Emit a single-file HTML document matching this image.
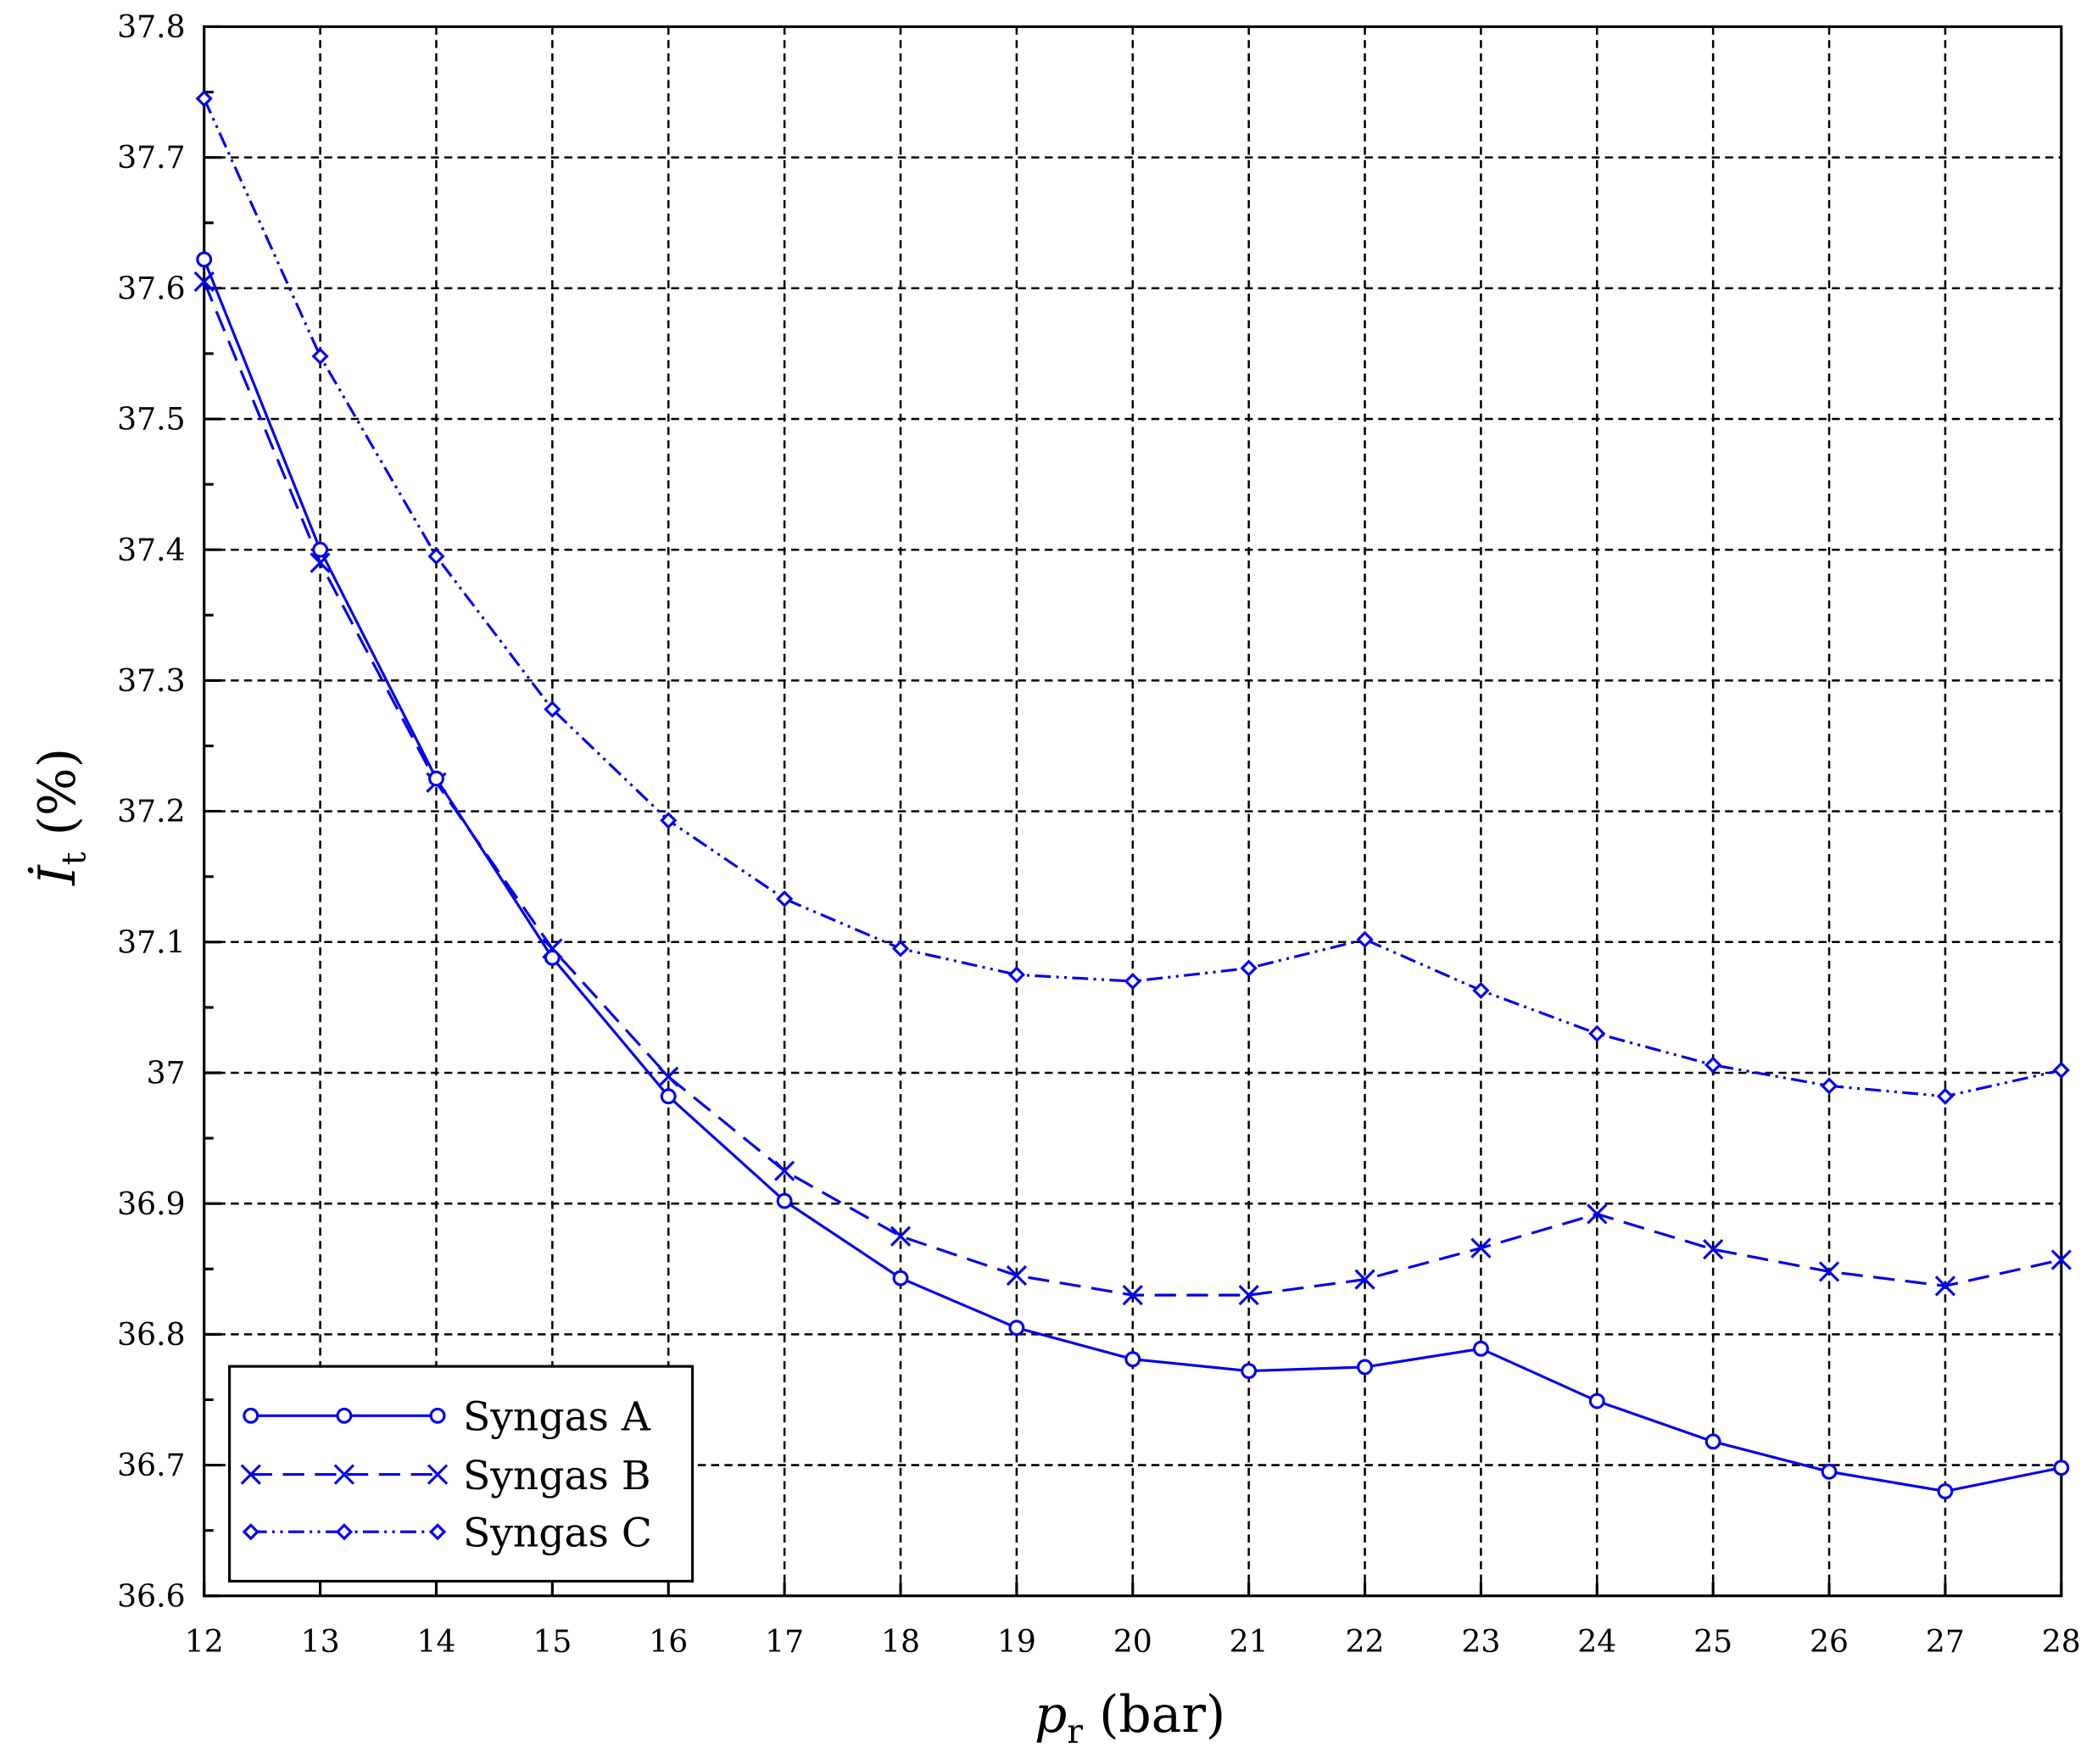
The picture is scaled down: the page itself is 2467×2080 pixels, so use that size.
<!DOCTYPE html>
<html><head><meta charset="utf-8"><style>html,body{margin:0;padding:0;background:#fff}svg{display:block}</style></head>
<body>
<svg id="s" xmlns="http://www.w3.org/2000/svg" width="2467" height="2080" viewBox="0 0 1568 1322" preserveAspectRatio="none" font-family="DejaVu Serif, Liberation Serif, serif"></svg>
<script>
const s=document.getElementById('s');
const X=v=>153+(v-12)*87, Y=v=>20+(37.8-v)*980;
let h='<rect width="1568" height="1322" fill="#fff"/>';
for(let i=13;i<28;i++)h+=`<line x1="${X(i)}" y1="20" x2="${X(i)}" y2="1196" stroke="#000" stroke-width="1.6" stroke-dasharray="6,4"/>`;
for(let k=1;k<12;k++){let v=36.6+k*0.1;h+=`<line x1="153" y1="${Y(v)}" x2="1545" y2="${Y(v)}" stroke="#000" stroke-width="1.6" stroke-dasharray="6,4"/>`;}
h+=`<rect x="153" y="20" width="1392" height="1176" fill="none" stroke="#000" stroke-width="2"/>`;
for(let k=0;k<=24;k++){let y=20+k*49;h+=`<line x1="153" y1="${y}" x2="${k%2?160:166}" y2="${y}" stroke="#000" stroke-width="2"/>`;}
for(let k=0;k<=12;k++){let v=(36.6+k*0.1);let t=(Math.round(v*10)/10).toString();h+=`<text x="139" y="${Y(v)+8}" text-anchor="end" font-size="23">${t}</text>`;}
for(let i=12;i<=28;i++){h+=`<line x1="${X(i)}" y1="1196" x2="${X(i)}" y2="1186" stroke="#000" stroke-width="2"/><text x="${X(i)}" y="1238" text-anchor="middle" font-size="23">${i}</text>`;}
h+=`<text x="847" y="1298" text-anchor="middle" font-size="38"><tspan font-style="italic">p</tspan><tspan font-size="25" dy="8">r</tspan><tspan dy="-8"> (bar)</tspan></text>`;
h+=`<g transform="translate(56,612) rotate(-90)"><text text-anchor="middle" font-size="38"><tspan font-style="italic">İ</tspan><tspan font-size="25" dy="8">t</tspan><tspan dy="-8"> (%)</tspan></text></g>`;
const A=[37.622,37.40,37.225,37.088,36.982,36.902,36.843,36.805,36.781,36.772,36.775,36.789,36.749,36.718,36.695,36.680,36.698];
const B=[37.605,37.39,37.222,37.095,36.997,36.925,36.875,36.845,36.830,36.830,36.842,36.866,36.892,36.865,36.848,36.837,36.857];
const C=[37.745,37.548,37.395,37.278,37.193,37.133,37.095,37.075,37.070,37.080,37.102,37.063,37.030,37.006,36.990,36.982,37.002];
const col='#0000ee';
function mk(t,x,y){if(t=='o')return `<circle cx="${x}" cy="${y}" r="5" fill="#fff" stroke="${col}" stroke-width="2"/>`;
if(t=='x')return `<path d="M${x-7} ${y-7}L${x+7} ${y+7}M${x-7} ${y+7}L${x+7} ${y-7}" stroke="${col}" stroke-width="2"/>`;
return `<path d="M${x} ${y-5}L${x+5} ${y}L${x} ${y+5}L${x-5} ${y}Z" fill="#fff" stroke="${col}" stroke-width="2"/>`;}
function ser(d,t,da){let p=d.map((v,i)=>`${X(12+i)},${Y(v)}`).join(' ');h+=`<polyline points="${p}" fill="none" stroke="${col}" stroke-width="2" ${da?`stroke-dasharray="${da}"`:''}/>`;d.forEach((v,i)=>h+=mk(t,X(12+i),Y(v)));}
ser(C,'d','12,4,2,4,2,4');ser(B,'x','16,8');ser(A,'o','');
h+=`<rect x="172" y="1024" width="347" height="161" fill="#fff" stroke="#000" stroke-width="2"/>`;
[['o','',1061,'Syngas A'],['x','16,8',1105,'Syngas B'],['d','12,4,2,4,2,4',1148,'Syngas C']].forEach(([t,da,y,l])=>{h+=`<line x1="188" y1="${y}" x2="328" y2="${y}" stroke="${col}" stroke-width="2" ${da?`stroke-dasharray="${da}"`:''}/>`+mk(t,188,y)+mk(t,258,y)+mk(t,328,y)+`<text x="347" y="${y+11}" font-size="30">${l}</text>`;});
s.innerHTML=h;
</script>
</body></html>
